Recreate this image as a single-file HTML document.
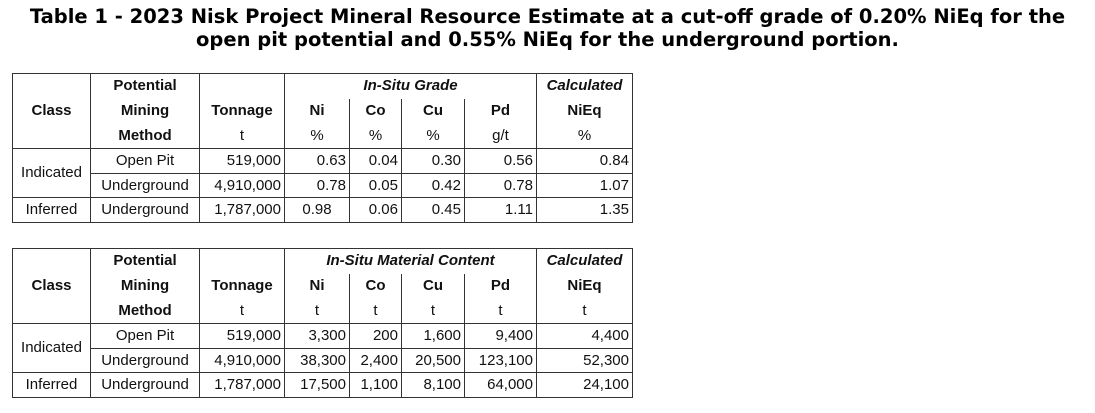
<!DOCTYPE html>
<html><head><style>
body{margin:0;width:1095px;height:413px;background:#fff;position:relative;font-family:"Liberation Sans",Arial,sans-serif;color:#111;}
.t{position:absolute;left:0;width:1095px;text-align:center;font-family:"DejaVu Sans",Verdana,sans-serif;font-weight:bold;font-size:19.5px;line-height:23px;top:5px;color:#000;}
table{position:absolute;left:12px;border-collapse:collapse;table-layout:fixed;font-size:15px;border:1.5px solid #333;}
td{padding:0 3px;border:1.5px solid #333;white-space:nowrap;line-height:18px;}
tr.h{height:25px}
tr.d{height:24.7px}
.h td{border-top:none;border-bottom:none;font-weight:bold;text-align:center;}
.h td.n{font-weight:normal}
.h td.i{font-style:italic}
td.r{text-align:right}
td.c{text-align:center}
</style></head><body>
<div class="t">Table 1 - 2023 Nisk Project Mineral Resource Estimate at a cut-off grade of 0.20% NiEq for the<br>open pit potential and 0.55% NiEq for the underground portion.</div>

<table style="top:73px">
<colgroup><col style="width:78px"><col style="width:109px"><col style="width:85px"><col style="width:65px"><col style="width:52px"><col style="width:63px"><col style="width:72px"><col style="width:96px"></colgroup>
<tr class="h"><td></td><td>Potential</td><td></td><td colspan="4" class="i">In-Situ Grade</td><td class="i">Calculated</td></tr>
<tr class="h"><td>Class</td><td>Mining</td><td>Tonnage</td><td>Ni</td><td>Co</td><td>Cu</td><td>Pd</td><td>NiEq</td></tr>
<tr class="h"><td></td><td>Method</td><td class="n">t</td><td class="n">%</td><td class="n">%</td><td class="n">%</td><td class="n">g/t</td><td class="n">%</td></tr>
<tr class="d"><td rowspan="2" class="c">Indicated</td><td class="c">Open Pit</td><td class="r">519,000</td><td class="r">0.63</td><td class="r">0.04</td><td class="r">0.30</td><td class="r">0.56</td><td class="r">0.84</td></tr>
<tr class="d"><td class="c">Underground</td><td class="r">4,910,000</td><td class="r">0.78</td><td class="r">0.05</td><td class="r">0.42</td><td class="r">0.78</td><td class="r">1.07</td></tr>
<tr class="d"><td class="c">Inferred</td><td class="c">Underground</td><td class="r">1,787,000</td><td class="c">0.98</td><td class="r">0.06</td><td class="r">0.45</td><td class="r">1.11</td><td class="r">1.35</td></tr>
</table>

<table style="top:248px">
<colgroup><col style="width:78px"><col style="width:109px"><col style="width:85px"><col style="width:65px"><col style="width:52px"><col style="width:63px"><col style="width:72px"><col style="width:96px"></colgroup>
<tr class="h"><td></td><td>Potential</td><td></td><td colspan="4" class="i">In-Situ Material Content</td><td class="i">Calculated</td></tr>
<tr class="h"><td>Class</td><td>Mining</td><td>Tonnage</td><td>Ni</td><td>Co</td><td>Cu</td><td>Pd</td><td>NiEq</td></tr>
<tr class="h"><td></td><td>Method</td><td class="n">t</td><td class="n">t</td><td class="n">t</td><td class="n">t</td><td class="n">t</td><td class="n">t</td></tr>
<tr class="d"><td rowspan="2" class="c">Indicated</td><td class="c">Open Pit</td><td class="r">519,000</td><td class="r">3,300</td><td class="r">200</td><td class="r">1,600</td><td class="r">9,400</td><td class="r">4,400</td></tr>
<tr class="d"><td class="c">Underground</td><td class="r">4,910,000</td><td class="r">38,300</td><td class="r">2,400</td><td class="r">20,500</td><td class="r">123,100</td><td class="r">52,300</td></tr>
<tr class="d"><td class="c">Inferred</td><td class="c">Underground</td><td class="r">1,787,000</td><td class="r">17,500</td><td class="r">1,100</td><td class="r">8,100</td><td class="r">64,000</td><td class="r">24,100</td></tr>
</table>
</body></html>
